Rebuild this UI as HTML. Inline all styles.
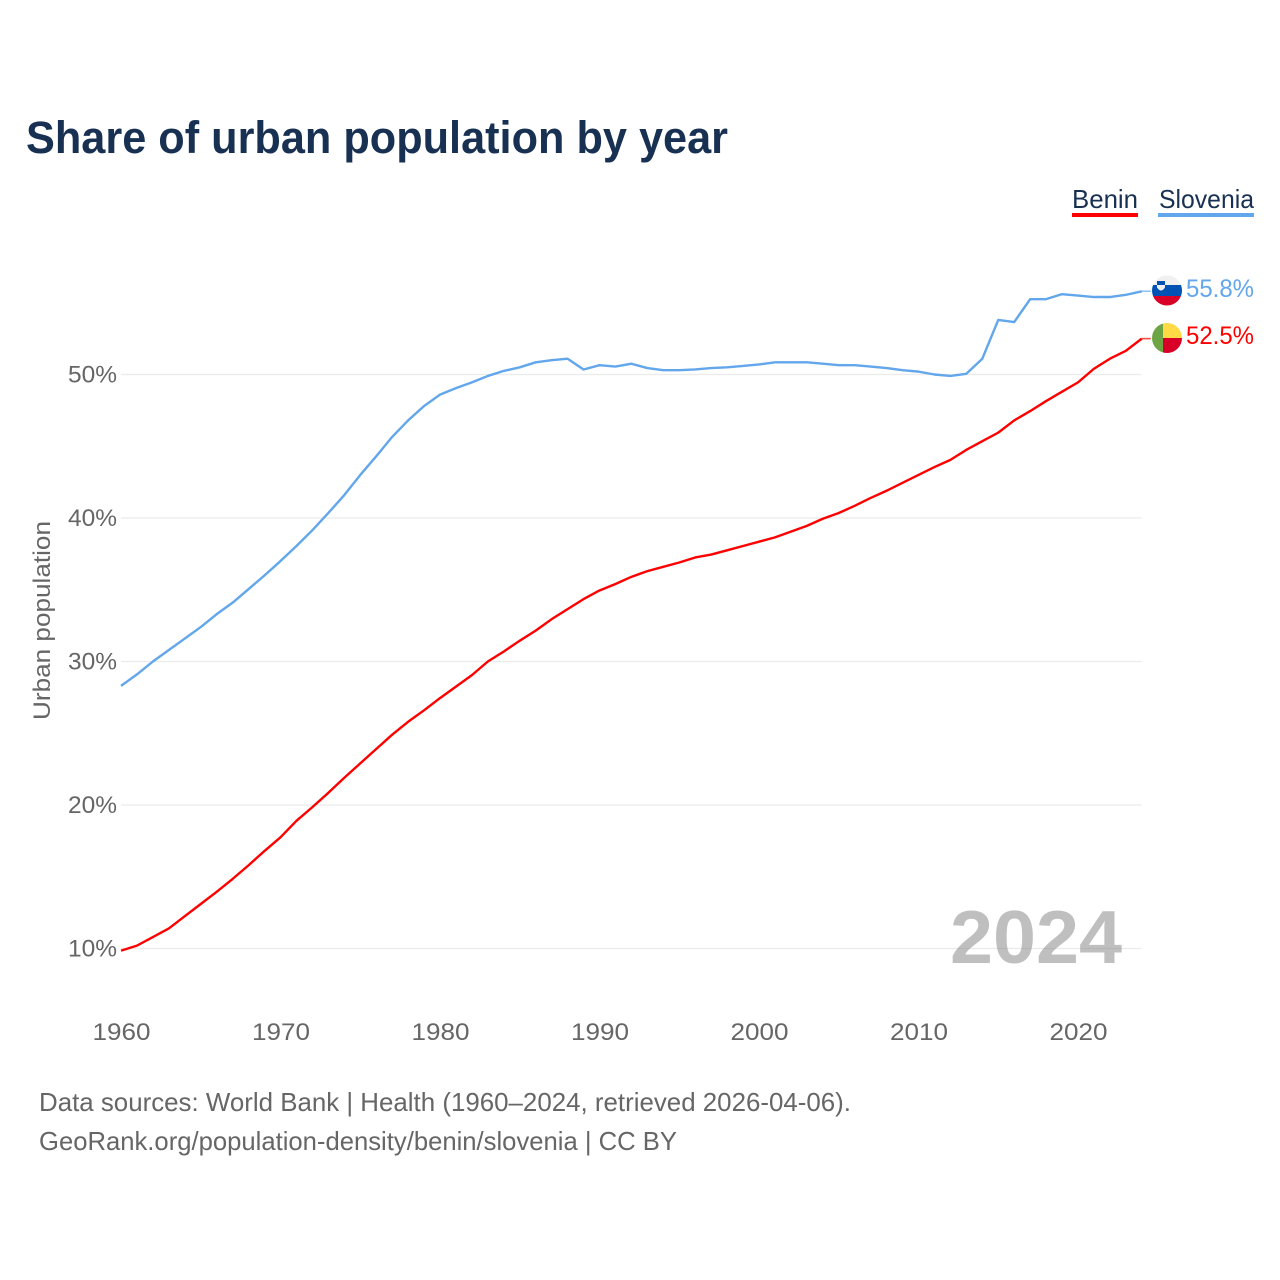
<!DOCTYPE html>
<html>
<head>
<meta charset="utf-8">
<title>Share of urban population by year</title>
<style>
html,body{margin:0;padding:0;background:#fff;}
svg{display:block;font-family:"Liberation Sans",sans-serif;}
</style>
</head>
<body>
<svg id="chart" width="1280" height="1280" viewBox="0 0 1280 1280" xmlns="http://www.w3.org/2000/svg">
  <defs>
    <clipPath id="clip-si"><circle id="clip-si-c" cx="1167" cy="290.5" r="15"/></clipPath>
    <clipPath id="clip-bj"><circle id="clip-bj-c" cx="1167" cy="338" r="15"/></clipPath>
  </defs>
  <rect width="1280" height="1280" fill="#fff"/>
  <text x="26" y="153" font-size="45" font-weight="700" fill="#183153" textLength="702" lengthAdjust="spacingAndGlyphs">Share of urban population by year</text>

  <g id="grid"></g>
  <g id="y-ticks"></g>
  <g id="x-ticks"></g>
  <text transform="translate(50,720) rotate(-90)" font-size="24" fill="#666" textLength="199" lengthAdjust="spacingAndGlyphs">Urban population</text>

  <text x="1122" y="963" text-anchor="end" font-size="75" font-weight="700" fill="#808080" fill-opacity="0.5" textLength="172" lengthAdjust="spacingAndGlyphs">2024</text>

  <g id="series"></g>

  <g>
    <text x="1072" y="208" font-size="26" fill="#183153" textLength="66" lengthAdjust="spacingAndGlyphs">Benin</text>
    <rect x="1072" y="213" width="66" height="4" fill="#ff0000"/>
  </g>
  <g>
    <text x="1159" y="208" font-size="26" fill="#183153" textLength="95" lengthAdjust="spacingAndGlyphs">Slovenia</text>
    <rect x="1158" y="213" width="96" height="4" fill="#62a6ec"/>
  </g>

  <g id="flag-si" clip-path="url(#clip-si)">
    <rect x="1152" y="275" width="30" height="10" fill="#f0f0f0"/>
    <rect x="1152" y="285" width="30" height="11" fill="#0052b4"/>
    <rect x="1152" y="296" width="30" height="11" fill="#d80027"/>
    <rect x="1157" y="281" width="8" height="4" fill="#0052b4"/>
    <path d="M1157 285h8v2.500q-4 6-8 0z" fill="#f0f0f0"/>
  </g>
  <g id="flag-bj" clip-path="url(#clip-bj)">
    <rect x="1152" y="323" width="11" height="30" fill="#6da544"/>
    <rect x="1163" y="323" width="19" height="15" fill="#ffda44"/>
    <rect x="1163" y="338" width="19" height="15" fill="#d80027"/>
  </g>

  <text x="39" y="1111" font-size="26" fill="#666" textLength="812" lengthAdjust="spacingAndGlyphs">Data sources: World Bank | Health (1960–2024, retrieved 2026-04-06).</text>
  <text x="39" y="1150" font-size="26" fill="#666" textLength="638" lengthAdjust="spacingAndGlyphs">GeoRank.org/population-density/benin/slovenia | CC BY</text>
</svg>
<script>
const startYear = 1960;
const slovenia = [28.3,29.1,30.0,30.8,31.6,32.4,33.3,34.1,35.05,36.0,37.0,38.05,39.15,40.35,41.6,43.0,44.3,45.65,46.8,47.8,48.6,49.05,49.45,49.9,50.25,50.5,50.85,51.0,51.1,50.35,50.65,50.55,50.75,50.45,50.3,50.3,50.35,50.45,50.5,50.6,50.7,50.85,50.85,50.85,50.75,50.65,50.65,50.55,50.45,50.3,50.2,50.0,49.9,50.05,51.1,53.8,53.65,55.25,55.25,55.6,55.5,55.4,55.4,55.55,55.8];
const benin = [9.85,10.2,10.8,11.4,12.25,13.1,13.95,14.85,15.8,16.8,17.75,18.9,19.85,20.85,21.9,22.9,23.9,24.9,25.8,26.6,27.45,28.25,29.05,30.0,30.7,31.45,32.15,32.95,33.65,34.35,34.95,35.4,35.9,36.3,36.6,36.9,37.25,37.45,37.75,38.05,38.35,38.65,39.05,39.45,39.95,40.35,40.85,41.4,41.9,42.45,43.0,43.55,44.05,44.75,45.35,45.95,46.8,47.45,48.15,48.8,49.45,50.4,51.1,51.65,52.5];
const yTicks = [10,20,30,40,50];
const xTicks = [1960,1970,1980,1990,2000,2010,2020];

const NS = 'http://www.w3.org/2000/svg';
const xScale = function (year) { return 121 + (year - 1960) * 15.95; };
const yScale = function (v) { return 948.5 - (v - 10) * 14.35; };
const make = function (tag, parent) {
  const n = document.createElementNS(NS, tag);
  parent.appendChild(n);
  return n;
};

const grid = document.getElementById('grid');
const yGroup = document.getElementById('y-ticks');
yTicks.forEach(function (t) {
  const line = make('line', grid);
  
  
  line.setAttribute('x1', 121);
  line.setAttribute('x2', 1141.5);
  line.setAttribute('y1', yScale(t));
  line.setAttribute('y2', yScale(t));
  line.setAttribute('stroke', '#ebebeb');
  line.setAttribute('stroke-width', 1.2);
  const label = make('text', yGroup);
  
  
  label.setAttribute('x', 117);
  label.setAttribute('y', yScale(t) + 8);
  label.setAttribute('text-anchor', 'end');
  label.setAttribute('font-size', 24);
  label.setAttribute('fill', '#666');
  label.setAttribute('textLength', 49);
  label.setAttribute('lengthAdjust', 'spacingAndGlyphs');
  label.textContent = t + '%';
});

const xGroup = document.getElementById('x-ticks');
xTicks.forEach(function (t) {
  const label = make('text', xGroup);
  
  
  label.setAttribute('x', xScale(t) + 0.5);
  label.setAttribute('y', 1040);
  label.setAttribute('text-anchor', 'middle');
  label.setAttribute('font-size', 24);
  label.setAttribute('fill', '#666');
  label.setAttribute('textLength', 58);
  label.setAttribute('lengthAdjust', 'spacingAndGlyphs');
  label.textContent = t;
});

const seriesGroup = document.getElementById('series');
const drawSeries = function (values, color, lineName, stubName, labelName) {
  const pts = values.map(function (v, i) {
    return xScale(startYear + i).toFixed(2) + ',' + yScale(v).toFixed(2);
  }).join(' ');
  const line = make('polyline', seriesGroup);
  
  
  line.setAttribute('points', pts);
  line.setAttribute('fill', 'none');
  line.setAttribute('stroke', color);
  line.setAttribute('stroke-width', 2.4);
  line.setAttribute('stroke-linejoin', 'round');
  const last = values[values.length - 1];
  const lastX = xScale(startYear + values.length - 1);
  const lastY = yScale(last);
  const stub = make('line', seriesGroup);
  
  
  stub.setAttribute('x1', lastX);
  stub.setAttribute('x2', lastX + 9);
  stub.setAttribute('y1', lastY);
  stub.setAttribute('y2', lastY);
  stub.setAttribute('stroke', color);
  stub.setAttribute('stroke-opacity', 0.7);
  stub.setAttribute('stroke-width', 1.6);
  const label = make('text', seriesGroup);
  
  
  label.setAttribute('x', 1186);
  label.setAttribute('y', lastY + 5.5);
  label.setAttribute('font-size', 25);
  label.setAttribute('fill', color);
  label.setAttribute('textLength', 68);
  label.setAttribute('lengthAdjust', 'spacingAndGlyphs');
  label.textContent = last.toFixed(1) + '%';
};
drawSeries(slovenia, '#62a6ec', 'slovenia-line', 'slovenia-end-connector', 'slovenia-end-value');
drawSeries(benin, '#ff0000', 'benin-line', 'benin-end-connector', 'benin-end-value');
</script>
</body>
</html>
